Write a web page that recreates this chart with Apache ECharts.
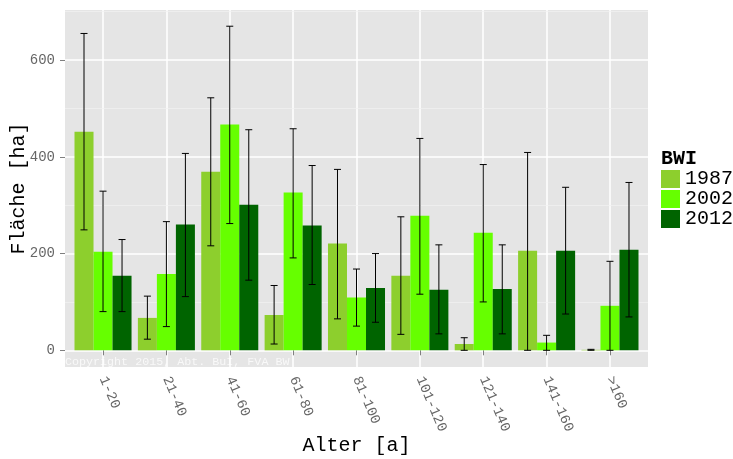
<!DOCTYPE html>
<html>
<head>
<meta charset="utf-8">
<script src="https://cdn.jsdelivr.net/npm/echarts@6/dist/echarts.min.js"></script>
<style>html,body{margin:0;padding:0;background:#fff}#c{width:733px;height:459px}</style>
</head>
<body>
<div id="c"></div>
<script>
const categories = ['1-20','21-40','41-60','61-80','81-100','101-120','121-140','141-160','>160'];
const years = ['1987','2002','2012'];
const v1987 = [452, 67, 369, 73, 221, 154, 13, 206, 1];
const lo1987 = [249, 23, 216, 13, 65, 33, 0, 0, 0];
const hi1987 = [655, 112, 522, 134, 374, 276, 26, 409, 2];
const v2002 = [204, 158, 467, 326, 109, 278, 243, 16, 92];
const lo2002 = [80, 49, 262, 191, 50, 116, 100, 0, 0];
const hi2002 = [329, 266, 670, 458, 168, 438, 384, 31, 184];
const v2012 = [154, 260, 301, 258, 129, 125, 127, 206, 208];
const lo2012 = [80, 111, 145, 136, 58, 34, 34, 75, 69];
const hi2012 = [229, 407, 456, 382, 200, 218, 218, 337, 347];
const yMajorTicks = [0, 200, 400, 600];
const yMinorTicks = [100, 300, 500, 700];
const colors = ['#8DCF2D', '#66FF00', '#006400'];

const FONT = "'Liberation Mono', 'DejaVu Sans Mono', monospace";
const xPositions = categories.map((c, i) => i + 1);

function makeData(v, lo, hi) {
  return v.map((val, i) => [i + 1, val, lo[i], hi[i]]);
}
const seriesData = [makeData(v1987, lo1987, hi1987), makeData(v2002, lo2002, hi2002), makeData(v2012, lo2012, hi2012)];

function makeRender(k) {
  return function (params, api) {
    const xi = api.value(0), v = api.value(1), lo = api.value(2), hi = api.value(3);
    const band = api.size([1, 0])[0];
    const bw = band * 0.3;
    const base = api.coord([xi, 0]);
    const top = api.coord([xi, v]);
    const cx = base[0] + (k - 1) * bw;
    const pLo = api.coord([xi, lo]);
    const pHi = api.coord([xi, hi]);
    const cap = 3.5;
    const ls = { stroke: '#000', lineWidth: 1 };
    return {
      type: 'group',
      children: [
        { type: 'rect', shape: { x: cx - bw / 2, y: top[1], width: bw, height: base[1] - top[1] }, style: { fill: colors[k] } },
        { type: 'line', shape: { x1: cx, y1: pLo[1], x2: cx, y2: pHi[1] }, style: ls },
        { type: 'line', shape: { x1: cx - cap, y1: pLo[1], x2: cx + cap, y2: pLo[1] }, style: ls },
        { type: 'line', shape: { x1: cx - cap, y1: pHi[1], x2: cx + cap, y2: pHi[1] }, style: ls }
      ]
    };
  };
}

const series = years.map((y, k) => {
  const s = {
    name: y,
    type: 'custom',
    z: 3,
    itemStyle: { color: colors[k] },
    encode: { x: 0, y: 1 },
    data: seriesData[k],
    renderItem: makeRender(k),
    silent: true
  };
  if (k === 0) {
    s.markLine = {
      silent: true, symbol: 'none', z: 1,
      label: { show: false },
      lineStyle: { color: '#f2f2f2', width: 0.7, type: 'solid' },
      data: yMinorTicks.map(t => ({ yAxis: t }))
    };
  }
  return s;
});

const chart = echarts.init(document.getElementById('c'), null, { renderer: 'canvas' });
chart.setOption({
  animation: false,
  grid: { left: 65, top: 10, width: 583, height: 357, show: true, backgroundColor: '#e5e5e5', borderWidth: 0, containLabel: false, outerBoundsMode: 'none' },
  xAxis: {
    type: 'value', min: 0.4, max: 9.6,
    axisLine: { show: false },
    axisTick: { show: true, customValues: xPositions, length: 5, lineStyle: { color: '#7f7f7f', width: 1 } },
    axisLabel: {
      customValues: xPositions, rotate: -67, margin: 10,
      formatter: v => categories[Math.round(v) - 1] || '',
      fontFamily: FONT, fontSize: 14, color: '#666'
    },
    splitLine: { show: true, lineStyle: { color: '#ffffff', width: 1.5 } },
    name: 'Alter [a]', nameLocation: 'middle', nameGap: 69, nameMoveOverlap: false,
    nameTextStyle: { fontFamily: FONT, fontSize: 20, color: '#000' }
  },
  yAxis: {
    type: 'value', min: -34.5, max: 703.5,
    axisLine: { show: false },
    axisTick: { show: true, customValues: yMajorTicks, length: 5, lineStyle: { color: '#7f7f7f', width: 1 } },
    axisLabel: { customValues: yMajorTicks, margin: 10, fontFamily: FONT, fontSize: 14, color: '#666' },
    splitLine: { show: true, lineStyle: { color: '#ffffff', width: 1.5 } },
    name: 'Fläche [ha]', nameLocation: 'middle', nameGap: 36, nameMoveOverlap: false,
    nameTextStyle: { fontFamily: FONT, fontSize: 20, color: '#000' }
  },
  legend: {
    data: years, orient: 'vertical', left: 661, top: 169, padding: 0,
    itemWidth: 19, itemHeight: 18, itemGap: 0, icon: 'rect',
    textStyle: { fontFamily: FONT, fontSize: 20, lineHeight: 18, color: '#000' },
    selectedMode: false
  },
  graphic: [
    { type: 'text', left: 661, top: 149, style: { text: 'BWI', font: "bold 20px 'Liberation Mono', monospace", fill: '#000' } },
    { type: 'text', left: 65, top: 356, z: 10, style: { text: 'Copyright 2015, Abt. BuI, FVA BW', font: "11.7px 'Liberation Mono', monospace", fill: 'rgba(255,255,255,0.75)' } }
  ],
  series: series
});
</script>
</body>
</html>
